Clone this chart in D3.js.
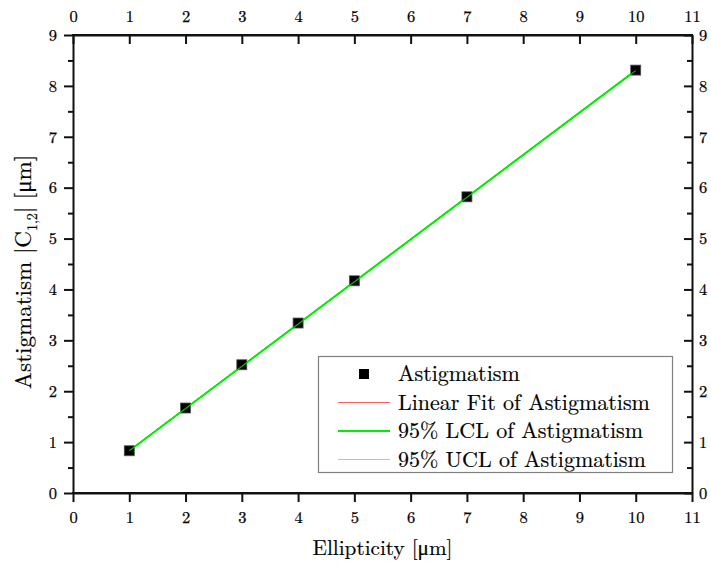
<!DOCTYPE html>
<html><head><meta charset="utf-8">
<script src="https://cdn.jsdelivr.net/npm/d3@7"></script>
<style>
body{margin:0;background:#fff;}
svg{display:block;}
</style></head>
<body>
<svg id="c" width="711" height="567"></svg>
<script>
// Data
const ellipticity = [1, 2, 3, 4, 5, 7, 10];
const astigmatism = [0.83, 1.67, 2.52, 3.34, 4.17, 5.82, 8.31];
const fitX = [1, 10];
const fitY = [0.83, 8.31];
const lclY = [0.83, 8.30];
const uclY = [0.84, 8.32];
const xTicks = [0,1,2,3,4,5,6,7,8,9,10,11];
const yTicks = [0,1,2,3,4,5,6,7,8,9];
const yMinor = [0.5,1.5,2.5,3.5,4.5,5.5,6.5,7.5,8.5];
const legendLabels = ["Astigmatism","Linear Fit of Astigmatism","95% LCL of Astigmatism","95% UCL of Astigmatism"];

(function(){
const FONT = '"Latin Modern Roman","CMU Serif","Liberation Serif",serif';
const L = 73, T = 35, R = 692, B = 493;
const svg = d3.select("#c");
const x = d3.scaleLinear().domain([0, 11]).range([L, R]);
const y = d3.scaleLinear().domain([0, 9]).range([B, T]);

function styleAxis(g){
  g.attr("font-family", FONT).attr("font-size", 16.5);
  g.selectAll("path").attr("stroke","#111").attr("stroke-width",2);
  g.selectAll(".tick line").attr("stroke","#111").attr("stroke-width",2);
  g.selectAll(".tick text").attr("fill","#000").attr("stroke","#000").attr("stroke-width",0.25);
}
const gBottom = svg.append("g").attr("transform",`translate(0,${B})`)
  .call(d3.axisBottom(x).tickValues(xTicks).tickFormat(d3.format("d")).tickSizeInner(9).tickSizeOuter(0).tickPadding(9));
styleAxis(gBottom);
const gTop = svg.append("g").attr("transform",`translate(0,${T})`)
  .call(d3.axisTop(x).tickValues(xTicks).tickFormat(d3.format("d")).tickSizeInner(-9).tickSizeOuter(0).tickPadding(13));
styleAxis(gTop);
const gLeft = svg.append("g").attr("transform",`translate(${L},0)`)
  .call(d3.axisLeft(y).tickValues(yTicks).tickFormat(d3.format("d")).tickSizeInner(9).tickSizeOuter(0).tickPadding(7));
styleAxis(gLeft);
const gLeftMinor = svg.append("g").attr("transform",`translate(${L},0)`)
  .call(d3.axisLeft(y).tickValues(yMinor).tickFormat("").tickSizeInner(5).tickSizeOuter(0));
styleAxis(gLeftMinor); gLeftMinor.select("path").remove();
const gRight = svg.append("g").attr("transform",`translate(${R},0)`)
  .call(d3.axisRight(y).tickValues(yTicks).tickFormat(d3.format("d")).tickSizeInner(-8).tickSizeOuter(0).tickPadding(7));
styleAxis(gRight);
const gRightMinor = svg.append("g").attr("transform",`translate(${R},0)`)
  .call(d3.axisRight(y).tickValues(yMinor).tickFormat("").tickSizeInner(-5).tickSizeOuter(0));
styleAxis(gRightMinor); gRightMinor.select("path").remove();
svg.append("path").attr("d",`M${L-1},${T}H${R+1}M${L-1},${B}H${R+1}`).attr("stroke","#111").attr("stroke-width",2);

// Lines
const line = d3.line().x(d=>x(d[0])).y(d=>y(d[1]));
svg.append("path").datum(d3.zip(fitX, fitY)).attr("d",line).attr("fill","none").attr("stroke","#ff0000").attr("stroke-width",1);
svg.append("path").datum(d3.zip(fitX, uclY)).attr("d",line).attr("fill","none").attr("stroke","#00ff00").attr("stroke-width",1);
svg.append("path").datum(d3.zip(fitX, lclY)).attr("d",line).attr("fill","none").attr("stroke","#00ee00").attr("stroke-width",1.8);

// Points
const S = 10;
svg.append("g").selectAll("rect").data(d3.zip(ellipticity, astigmatism)).join("rect")
  .attr("x",d=>x(d[0])-S/2).attr("y",d=>y(d[1])-S/2).attr("width",S).attr("height",S)
  .attr("fill","#000").attr("stroke","#555").attr("stroke-width",0.8);
svg.append("path").datum(d3.zip(fitX, lclY)).attr("d",line).attr("fill","none").attr("stroke","#00ee00").attr("stroke-width",1.2).attr("opacity",0.8);

function fitWidth(t, w, base){
  const n = t.node(); const cw = n.getComputedTextLength();
  if (cw > 0) t.attr("font-size", base * w / cw);
}

// Axis titles
const xt = svg.append("text").attr("x",(L+R)/2).attr("y",555).attr("text-anchor","middle")
  .attr("font-family",FONT).attr("font-size",20).attr("fill","#000").attr("stroke","#000").attr("stroke-width",0.2).text("Ellipticity [μm]");
fitWidth(xt, 140, 20);
const yt = svg.append("text").attr("transform",`translate(31,${(T+B)/2+8}) rotate(-90)`).attr("text-anchor","middle")
  .attr("font-family",FONT).attr("font-size",23).attr("fill","#000").attr("stroke","#000").attr("stroke-width",0.2);
yt.append("tspan").text("Astigmatism |C");
yt.append("tspan").attr("dy",6).attr("font-size",14).text("1,2");
yt.append("tspan").attr("dy",-6).text("| [μm]");

// Legend
const lg = svg.append("g");
lg.append("rect").attr("x",318.5).attr("y",356.5).attr("width",354).attr("height",116).attr("fill","#fff").attr("stroke","#808080").attr("stroke-width",1.2);
const rowY = [374, 402.5, 431, 459.5];
lg.append("rect").attr("x",359).attr("y",rowY[0]-5).attr("width",10).attr("height",10).attr("fill","#000");
const legCols = ["#ff6060","#00ee00","#66ff66"];
const legW = [1,1.8,1];
[1,2,3].forEach((i,k)=>{
  lg.append("line").attr("x1",338).attr("x2",390).attr("y1",rowY[i]).attr("y2",rowY[i]).attr("stroke",legCols[k]).attr("stroke-width",legW[k]);
});
const lt = legendLabels.map((t,i)=>
  lg.append("text").attr("x",398).attr("y",rowY[i]+7).attr("font-family",FONT).attr("font-size",20)
    .attr("fill","#000").attr("stroke","#000").attr("stroke-width",0.2).text(t));
const w1 = lt[1].node().getComputedTextLength();
const fs = w1 > 0 ? 20 * 252 / w1 : 21;
lt.forEach(t=>t.attr("font-size", fs));
})();
</script>
</body></html>
